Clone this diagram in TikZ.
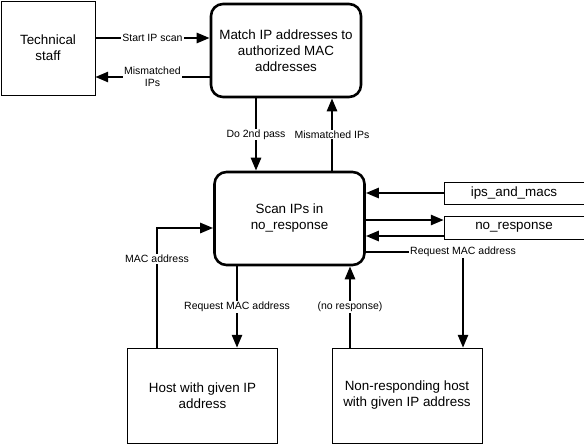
\documentclass[tikz,border=0pt]{standalone}
\usepackage{fontspec}
\setmainfont{Liberation Sans}
\usetikzlibrary{positioning}
\usetikzlibrary{arrows.meta}
\tikzset{
    procnode/.style = {rectangle, rounded corners=12pt, line width=2.6pt, draw=black, align=center, minimum width=150pt, minimum height=93pt, font=\fontsize{13.4}{16}\selectfont},
    extnode/.style = {rectangle, thin, draw=black, align=center, minimum width=150pt, minimum height=95pt, font=\fontsize{13.4}{16}\selectfont},
    storenode/.style = {rectangle, draw=none, minimum width=140pt, minimum height=22pt, font=\fontsize{13.4}{16}\selectfont},
    storeline/.style = {thin,black},
    edgen/.style = {-{Triangle[length=13pt,width=10pt]},line width=2.6pt},
    lbl/.style = {fill=white, inner sep=1pt, align=center, font=\fontsize{10.5}{12}\selectfont}
}
\begin{document}
\begin{tikzpicture}[x=1pt,y=-1pt]
\useasboundingbox (0,0) rectangle (585,444);
%
\node[extnode, minimum width=94pt, minimum height=94pt] at (48,48) (staff) {Technical\\staff};
\node[procnode] at (286,50.5) (match) {Match IP addresses to\\authorized MAC\\addresses};
\node[procnode] at (289.5,218.5) (scan) {Scan IPs in\\no\_response};
\node[storenode] at (514,193) (ips) {ips\_and\_macs};
\node[storenode] at (514,227.5) (nores) {no\_response};
\node[extnode] at (202.5,395.5) (host) {Host with given IP\\address};
\node[extnode] at (407,395.5) (nonres) {Non-responding host\\with given IP address};
%
\draw[storeline] (ips.north east) -- (ips.north west) -- (ips.south west) -- (ips.south east);
\draw[storeline] (nores.north east) -- (nores.north west) -- (nores.south west) -- (nores.south east);
%
\draw[edgen] ([yshift=10pt]staff.east) -- ([yshift=10pt]staff.east -| match.west) node[midway,lbl] {Start IP scan};
\draw[edgen] ([yshift=-26.5pt]match.west) -- ([yshift=-26.5pt]match.west -| staff.east) node[midway,lbl] {Mismatched\\IPs};
\draw[edgen] ([xshift=-30pt]match.south) -- ([xshift=-30pt]match.south |- scan.north) node[midway,lbl] {Do 2nd pass};
\draw[edgen] ([xshift=42.5pt]scan.north) -- ([xshift=42.5pt]scan.north |- match.south) node[midway,lbl] {Mismatched IPs};
\draw[edgen] (ips.west) -- (ips.west -| scan.east);
\draw[edgen] ([yshift=7.5pt]nores.west -| scan.east) -- ([yshift=7.5pt]nores.west);
\draw[edgen] ([yshift=-8.5pt]nores.west) -- ([yshift=-8.5pt]nores.west -| scan.east);
\draw[edgen] ([yshift=-33.5pt]scan.east) -| ([xshift=56pt]nonres.north) node[pos=0.5,lbl] {Request MAC address};
\draw[edgen] ([xshift=-52.5pt]scan.south) -- ([xshift=-52.5pt]scan.south |- host.north) node[midway,lbl] {Request MAC address};
\draw[edgen] ([xshift=-57pt]nonres.north) -- ([xshift=-57pt]nonres.north |- scan.south) node[midway,lbl] {(no response)};
\draw[edgen] ([xshift=-45.5pt]host.north) |- ([yshift=-9.5pt]scan.west) node[pos=0.37,lbl] {MAC address};
\end{tikzpicture}
\end{document}
